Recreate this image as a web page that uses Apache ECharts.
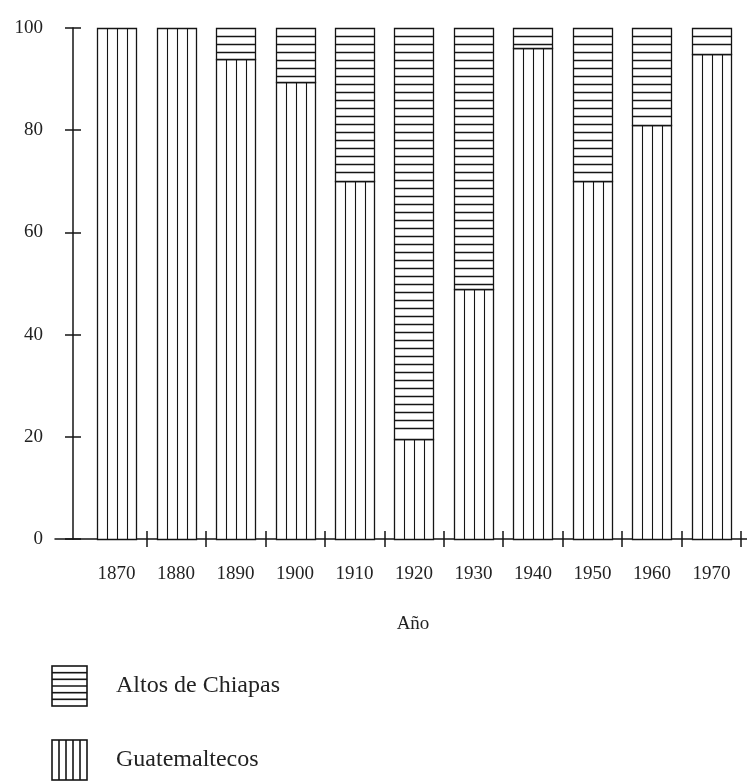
<!DOCTYPE html>
<html>
<head>
<meta charset="utf-8">
<script src="https://cdn.jsdelivr.net/npm/echarts@6/dist/echarts.min.js"></script>
<style>
  html, body { margin: 0; padding: 0; background: #fff; }
  #chart { width: 747px; height: 784px; }
</style>
</head>
<body>
<div id="chart"></div>
<script>
// ---- data (percent of workers by origin) ----
const years = [1870, 1880, 1890, 1900, 1910, 1920, 1930, 1940, 1950, 1960, 1970];
const guatemaltecos = [100, 100, 94, 89.5, 70, 19.5, 49, 96, 70, 81, 95];
const altosDeChiapas = [0, 0, 6, 10.5, 30, 80.5, 51, 4, 30, 19, 5];
const yTicks = [0, 20, 40, 60, 80, 100];
const boundaryTicks = [1875, 1885, 1895, 1905, 1915, 1925, 1935, 1945, 1955, 1965, 1975];
const seriesNames = ['Altos de Chiapas', 'Guatemaltecos'];
const axisName = 'Año';

const FONT = '"Liberation Serif", "Times New Roman", serif';
const INK = '#151515';

// stacked segments built from the arrays: [year, start, end]
const guateData = years.map((y, i) => [y, 0, guatemaltecos[i]]);
const altosData = years.map((y, i) => [y, guatemaltecos[i], guatemaltecos[i] + altosDeChiapas[i]]);

function makeRender(kind) {
  return function (params, api) {
    const x = api.value(0), v0 = api.value(1), v1 = api.value(2);
    if (v1 - v0 <= 0) return null;
    const pTop = api.coord([x, v1]);
    const pBot = api.coord([x, v0]);
    const w = Math.round(api.size([10, 0])[0] * 0.655);
    const left = Math.round(pTop[0] - w / 2) + 0.5;
    const right = left + w;
    const top = Math.round(pTop[1]) + 0.5;
    const bot = Math.round(pBot[1]) + 0.5;
    const children = [{
      type: 'rect',
      shape: { x: left, y: top, width: w, height: bot - top },
      style: { fill: '#fff', stroke: INK, lineWidth: 1.3 }
    }];
    if (kind === 'v') {
      for (let i = 1; i < 4; i++) {
        const lx = Math.round(left + w * i / 4) + 0.5;
        children.push({ type: 'line', shape: { x1: lx, y1: top, x2: lx, y2: bot },
          style: { stroke: INK, lineWidth: 1.1 } });
      }
    } else {
      for (let ly = top + 8; ly < bot - 3; ly += 8) {
        children.push({ type: 'line', shape: { x1: left, y1: ly, x2: right, y2: ly },
          style: { stroke: INK, lineWidth: 1.6 } });
      }
    }
    return { type: 'group', children: children };
  };
}

function iconURL(kind) {
  const s = 2, W = 37, H = 42;
  const c = document.createElement('canvas');
  c.width = W * s; c.height = H * s;
  const g = c.getContext('2d');
  g.scale(s, s);
  g.fillStyle = '#fff'; g.fillRect(0, 0, W, H);
  g.strokeStyle = INK;
  g.lineWidth = 1.6;
  g.strokeRect(1, 1, W - 2, H - 2);
  g.beginPath();
  if (kind === 'h') {
    for (let i = 1; i < 6; i++) { const y = 1 + (H - 2) * i / 6; g.moveTo(1, y); g.lineTo(W - 1, y); }
  } else {
    for (let i = 1; i < 5; i++) { const x = 1 + (W - 2) * i / 5; g.moveTo(x, 1); g.lineTo(x, H - 1); }
  }
  g.stroke();
  return 'image://' + c.toDataURL('image/png');
}

const chart = echarts.init(document.getElementById('chart'), null, { renderer: 'canvas' });

const xCommon = {
  type: 'value', min: 1859.66, max: 1975.97,
  splitLine: { show: false }
};

chart.setOption({
  animation: false,
  backgroundColor: '#fff',
  grid: { left: 55, right: 0, top: 28, bottom: 245 },
  xAxis: [
    Object.assign({}, xCommon, {
      position: 'bottom',
      name: axisName, nameLocation: 'middle', nameGap: 76,
      nameTextStyle: { fontFamily: FONT, fontSize: 19, color: '#222', padding: [0, 0, 0, 24] },
      axisLine: { show: true, lineStyle: { color: INK, width: 1.5 } },
      axisTick: { show: true, length: 8, customValues: boundaryTicks, lineStyle: { color: INK, width: 1.5 } },
      axisLabel: { show: true, customValues: years, margin: 26, formatter: v => String(v),
        fontFamily: FONT, fontSize: 19, color: '#222' }
    }),
    Object.assign({}, xCommon, {
      position: 'bottom',
      axisLine: { show: false },
      axisTick: { show: true, inside: true, length: 8, customValues: boundaryTicks, lineStyle: { color: INK, width: 1.5 } },
      axisLabel: { show: false }
    })
  ],
  yAxis: [
    {
      type: 'value', min: 0, max: 100, interval: 20, position: 'left', offset: -18,
      splitLine: { show: false },
      axisLine: { show: true, lineStyle: { color: INK, width: 1.5 } },
      axisTick: { show: true, length: 8, customValues: yTicks, lineStyle: { color: INK, width: 1.5 } },
      axisLabel: { margin: 30, fontFamily: FONT, fontSize: 19, color: '#222', customValues: yTicks }
    },
    {
      type: 'value', min: 0, max: 100, interval: 20, position: 'left', offset: -18,
      splitLine: { show: false },
      axisLine: { show: false },
      axisTick: { show: true, inside: true, length: 8, customValues: yTicks, lineStyle: { color: INK, width: 1.5 } },
      axisLabel: { show: false }
    }
  ],
  legend: {
    orient: 'vertical', left: 51, top: 665, padding: 0,
    itemWidth: 37, itemHeight: 42, itemGap: 32,
    selectedMode: false,
    textStyle: { fontFamily: FONT, fontSize: 24, color: '#222', padding: [0, 0, 0, 23] },
    data: [
      { name: seriesNames[0], icon: iconURL('h') },
      { name: seriesNames[1], icon: iconURL('v') }
    ]
  },
  series: [
    { type: 'custom', name: seriesNames[1], xAxisIndex: 0, yAxisIndex: 0,
      renderItem: makeRender('v'), data: guateData, encode: { x: 0, y: [1, 2] } },
    { type: 'custom', name: seriesNames[0], xAxisIndex: 0, yAxisIndex: 0,
      renderItem: makeRender('h'), data: altosData, encode: { x: 0, y: [1, 2] } }
  ]
});
</script>
</body>
</html>
